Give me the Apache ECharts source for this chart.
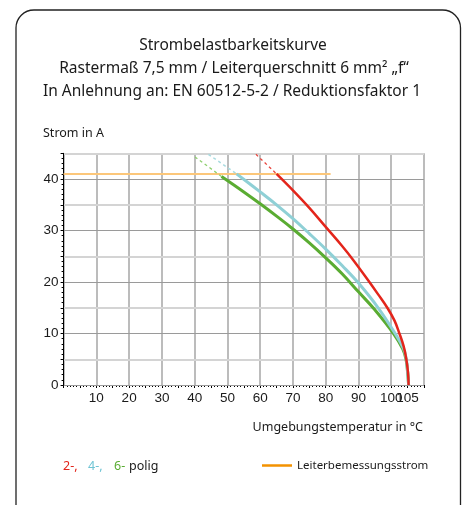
<!DOCTYPE html>
<html>
<head>
<meta charset="utf-8">
<script src="https://cdn.jsdelivr.net/npm/echarts@6/dist/echarts.min.js"></script>
<style>html,body{margin:0;padding:0;background:#fff}#c{width:465px;height:505px}</style>
</head>
<body>
<div id="c"></div>
<script>
// ---- data ----
const titleLines = ["Strombelastbarkeitskurve", "Rastermaß 7,5 mm / Leiterquerschnitt 6 mm² „f“", "In Anlehnung an: EN 60512-5-2 / Reduktionsfaktor 1"];
const yAxisName = "Strom in A";
const xAxisName = "Umgebungstemperatur in °C";
const xTickLabels = [10, 20, 30, 40, 50, 60, 70, 80, 90, 100, 105];
const yTickLabels = [0, 10, 20, 30, 40];

const red2Temp = [65, 70, 75, 80, 85, 88.5, 93, 96, 98.8, 101, 102.5, 103.8, 104.6, 105.1, 105.3];
const red2Curr = [41, 37.8, 34.4, 30.7, 27.0, 24.2, 20.3, 17.6, 15, 12.5, 10, 7.5, 5, 2.5, 0];
const red2DashTemp = [58.7, 65];
const red2DashCurr = [44.8, 41];

const cyan4Temp = [52.8, 60, 65, 70, 75, 80, 85, 90, 96, 101.2, 103.8, 104.6, 105, 105.3];
const cyan4Curr = [41, 37.5, 35.0, 32.3, 29.4, 26.4, 23.2, 19.8, 15, 10, 7, 5, 2.5, 0];
const cyan4DashTemp = [44.2, 52.8];
const cyan4DashCurr = [44.8, 41];

const green6Temp = [48.2, 55, 60, 65, 70, 75, 80, 85, 90, 95, 100.7, 103.5, 104.5, 105, 105.3];
const green6Curr = [40.5, 37.5, 35.2, 32.8, 30.3, 27.6, 24.7, 21.6, 18.1, 14.6, 10, 7, 5, 2.5, 0];
const green6DashTemp = [40.1, 48.2];
const green6DashCurr = [44.3, 40.5];

const ratedTemp = [0, 81.5];
const ratedCurr = [41, 41];

const legendPoles = ["2-,", "4-,", "6-", "polig"];
const legendRated = "Leiterbemessungsstrom";

// ---- helpers ----
const zip = (a, b) => a.map((v, i) => [v, b[i]]);
const RED = '#e3251b', CYAN = '#8fd0d6', GREEN = '#5aac32', ORANGE = '#f39200';
const TXT = '#1a1a1a';
const FONT = '"Noto Sans", sans-serif';
const TICKFONT = '"Liberation Sans", Arial, sans-serif';

const chart = echarts.init(document.getElementById('c'), null, {renderer: 'canvas'});

const lineSeries = (data, color, width, dashed, smooth) => ({
  type: 'line', data: data, symbol: 'none', smooth: smooth, silent: true,
  xAxisIndex: 0, yAxisIndex: 0,
  lineStyle: {color: color, width: width, type: dashed ? [3, 3] : 'solid', cap: 'butt'},
  z: 5
});

const option = {
  animation: false,
  grid: {left: 63.6, right: 41, top: 153.3, bottom: 120, containLabel: false},
  xAxis: {
    type: 'value', min: 0, max: 110, interval: 5,
    axisLine: {show: true, lineStyle: {color: '#000', width: 1}},
    axisTick: {show: true, length: 3, lineStyle: {color: '#000'}},
    minorTick: {show: true, splitNumber: 5, length: 2, lineStyle: {color: '#000'}},
    splitLine: {show: true, lineStyle: {color: ['#a6a6a6', 'rgba(0,0,0,0)'], width: 1.5}},
    axisLabel: {
      margin: 6, color: TXT, fontFamily: TICKFONT, fontSize: 13.5,
      formatter: v => xTickLabels.indexOf(v) >= 0 ? String(v) : ''
    }
  },
  yAxis: [{
    type: 'value', min: 0, max: 45, interval: 5,
    axisLine: {show: true, lineStyle: {color: '#000', width: 1}},
    axisTick: {show: true, length: 3, lineStyle: {color: '#000'}},
    minorTick: {show: true, splitNumber: 5, length: 2, lineStyle: {color: '#000'}},
    splitLine: {show: true, lineStyle: {color: ['#9a9a9a', 'rgba(0,0,0,0)'], width: 1}},
    axisLabel: {
      margin: 5, color: TXT, fontFamily: TICKFONT, fontSize: 13.5,
      formatter: v => yTickLabels.indexOf(v) >= 0 ? String(v) : ''
    },
    z: 3
  }, {
    type: 'value', min: 0, max: 45, interval: 5, position: 'left',
    axisLine: {show: false}, axisTick: {show: false}, axisLabel: {show: false},
    splitLine: {show: true, lineStyle: {color: ['rgba(0,0,0,0)', '#d4d4d4'], width: 2}},
    z: 1
  }],
  series: [
    lineSeries(zip(ratedTemp, ratedCurr), '#fcc77a', 2, false, false),
    lineSeries(zip(green6DashTemp, green6DashCurr), '#8fcf6f', 1.3, true, false),
    lineSeries(zip(cyan4DashTemp, cyan4DashCurr), '#a8dbe0', 1.5, true, false),
    lineSeries(zip(red2DashTemp, red2DashCurr), '#e8453d', 1.3, true, false),
    lineSeries(zip(green6Temp, green6Curr), GREEN, 3, false, 0.4),
    lineSeries(zip(cyan4Temp, cyan4Curr), CYAN, 3, false, 0.4),
    lineSeries(zip(red2Temp, red2Curr), RED, 2.5, false, 0.4)
  ],
  graphic: [
    {type: 'rect', shape: {x: 16, y: 10, width: 444.5, height: 520, r: 18},
     style: {fill: 'none', stroke: '#222', lineWidth: 1.3}, silent: true},
    {type: 'text', x: 233, y: 46, style: {text: titleLines[0], fill: TXT, font: '15.5px ' + FONT, align: 'center', verticalAlign: 'middle'}},
    {type: 'text', x: 234, y: 69, style: {text: titleLines[1], fill: TXT, font: '15.5px ' + FONT, align: 'center', verticalAlign: 'middle'}},
    {type: 'text', x: 232, y: 92, style: {text: titleLines[2], fill: TXT, font: '15.5px ' + FONT, align: 'center', verticalAlign: 'middle'}},
    {type: 'text', x: 43, y: 133, style: {text: yAxisName, fill: TXT, font: '12.5px ' + FONT, align: 'left', verticalAlign: 'middle'}},
    {type: 'text', x: 423, y: 427, style: {text: xAxisName, fill: TXT, font: '12.5px ' + FONT, align: 'right', verticalAlign: 'middle'}},
    {type: 'text', x: 63, y: 466, style: {text: legendPoles[0], fill: RED, font: '12.5px ' + FONT, align: 'left', verticalAlign: 'middle'}},
    {type: 'text', x: 88, y: 466, style: {text: legendPoles[1], fill: '#6fc4d4', font: '12.5px ' + FONT, align: 'left', verticalAlign: 'middle'}},
    {type: 'text', x: 114, y: 466, style: {text: legendPoles[2], fill: GREEN, font: '12.5px ' + FONT, align: 'left', verticalAlign: 'middle'}},
    {type: 'text', x: 129, y: 466, style: {text: legendPoles[3], fill: TXT, font: '12.5px ' + FONT, align: 'left', verticalAlign: 'middle'}},
    {type: 'line', shape: {x1: 262, y1: 465.5, x2: 292, y2: 465.5}, style: {stroke: ORANGE, lineWidth: 2.5}},
    {type: 'text', x: 297, y: 466, style: {text: legendRated, fill: TXT, font: '11.5px ' + FONT, align: 'left', verticalAlign: 'middle'}}
  ]
};
chart.setOption(option);
</script>
</body>
</html>
